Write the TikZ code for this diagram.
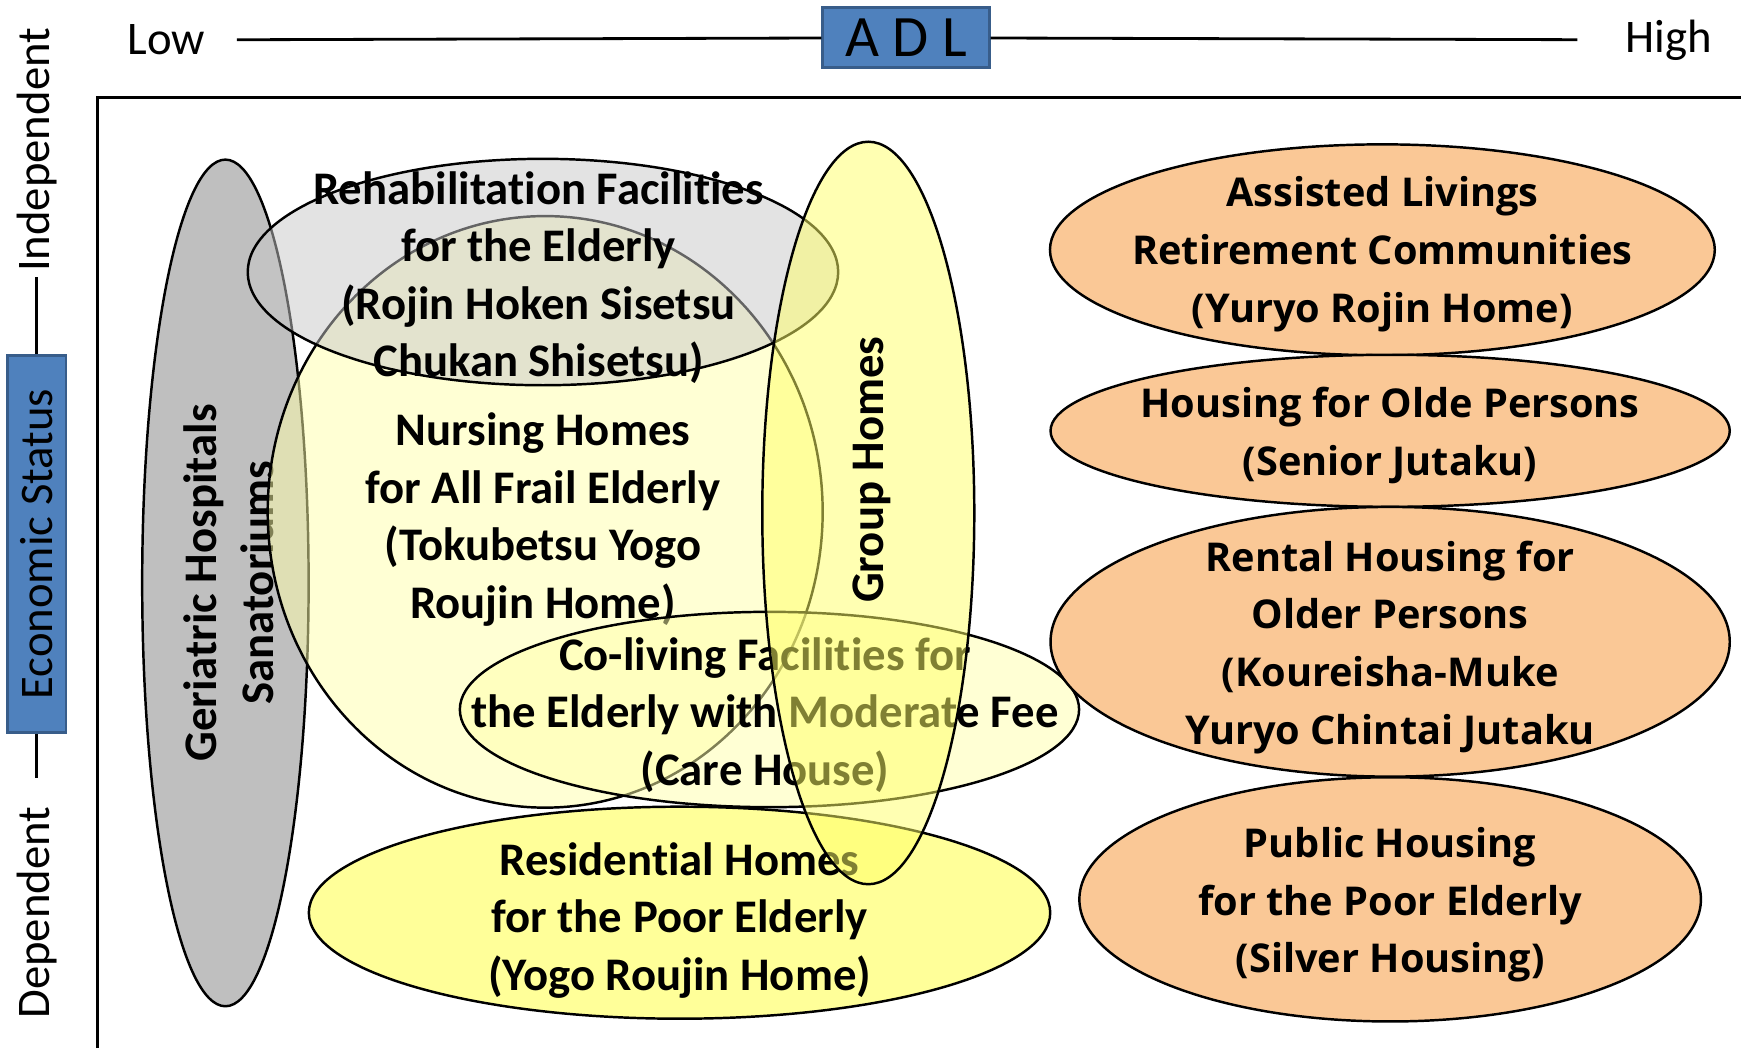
\documentclass[tikz,border=0pt]{standalone}
\usepackage{fontspec}
\setmainfont[Ligatures=NoCommon]{Carlito}
\newfontfamily\widefont{Open Sans}
\usepackage{xcolor}
\usepackage{tikz}
\usetikzlibrary{shapes.geometric,positioning}
\definecolor{adlblue}{HTML}{4F81BD}
\definecolor{adledge}{HTML}{385D8A}
\definecolor{geriagray}{HTML}{BFBFBF}
\definecolor{rehabgray}{HTML}{C8C8C8}
\definecolor{paleyellow}{HTML}{FFFFAA}
\definecolor{lightyellow}{HTML}{FFFF99}
\definecolor{groupyellow}{HTML}{FFFF66}
\definecolor{housingorange}{HTML}{FAC896}
\tikzstyle{axislabel} = [font=\fontsize{13.3}{15.5}\selectfont, inner sep=0pt]
\tikzstyle{axisbox} = [rectangle, draw=adledge, fill=adlblue, line width=0.8pt, inner sep=0pt]
\tikzstyle{axisline} = [line width=0.8pt]

\begin{document}
\begin{tikzpicture}[x=0.011103cm, y=-0.011103cm]
    \tikzstyle{zone} = [ellipse, draw, line width=0.7pt, inner sep=0pt]
    \tikzstyle{zonetext} = [align=center, inner sep=0pt, font=\bfseries\fontsize{13.3}{16.4}\selectfont]
    \tikzstyle{housetext} = [align=center, inner sep=0pt, font=\widefont\bfseries\fontsize{11.3}{16.4}\selectfont]
    \useasboundingbox (0,0) rectangle (1568,944);

    % ADL axis
    \node [axislabel] (low) at (150,36) {Low};
    \node [axisbox, minimum width=1.665cm, minimum height=0.6cm, font=\fontsize{16.7}{20}\selectfont] (adl) at (816,34) {A D L};
    \node [axislabel] (high) at (1503,36) {High};
    \draw [axisline, shorten <=0.31cm] (low) -- (adl);
    \draw [axisline, shorten >=0.477cm] (adl) -- (high);

    % Economic status axis
    \node [axislabel, rotate=90] (indep) at (33,135) {Independent};
    \node [axisbox, rotate=90, minimum width=3.775cm, minimum height=0.588cm, font=\fontsize{13.3}{15.5}\selectfont] (econ) at (33,490) {Economic Status};
    \node [axislabel, rotate=90] (dep) at (33,822) {Dependent};
    \draw [axisline, shorten <=0.044cm] (indep) -- (econ);
    \draw [axisline, shorten >=0.278cm] (econ) -- (dep);

    % frame
    \draw [axisline] (88,944) -- (88,88) -- (1568,88);

    % facilities
    \node [zone, fill=geriagray, minimum width=1.665cm, minimum height=8.47cm] (geriatric) at (203,525) {};
    \node [zonetext, rotate=90] (geriatrictext) at (206,525) {Geriatric Hospitals\\Sanatoriums};
    \node [zone, fill=lightyellow, minimum width=7.417cm, minimum height=2.121cm] (residential) at (612,822) {};
    \node [zonetext] (residentialtext) at (612,829) {Residential Homes\\for the Poor Elderly\\(Yogo Roujin Home)};
    \node [zone, fill=paleyellow, fill opacity=0.5, minimum width=5.552cm, minimum height=5.918cm] (nursing) at (491,461) {};
    \node [zonetext] (nursingtext) at (489,468) {Nursing Homes\\for All Frail Elderly\\(Tokubetsu Yogo\\Roujin Home)};
    \node [zone, fill=rehabgray, fill opacity=0.5, minimum width=5.907cm, minimum height=2.265cm] (rehab) at (489,245) {};
    \node [zonetext] (rehabtext) at (485,250) {Rehabilitation Facilities\\for the Elderly\\(Rojin Hoken Sisetsu\\Chukan Shisetsu)};
    \node [zone, fill=paleyellow, fill opacity=0.5, minimum width=6.195cm, minimum height=1.954cm] (coliving) at (693,639) {};
    \node [zonetext] (colivingtext) at (689,644) {Co-living Facilities for\\the Elderly with Moderate Fee\\(Care House)};
    \node [zone, fill=groupyellow, fill opacity=0.5, minimum width=2.121cm, minimum height=7.428cm] (group) at (782,462) {};
    \node [zonetext, rotate=90] (grouptext) at (785,423) {Group Homes};

    % housing
    \node [zone, fill=housingorange, minimum width=6.651cm, minimum height=2.11cm] (assisted) at (1245,225) {};
    \node [housetext] (assistedtext) at (1245,229) {Assisted Livings\\Retirement Communities\\(Yuryo Rojin Home)};
    \node [zone, fill=housingorange, minimum width=6.795cm, minimum height=1.521cm] (senior) at (1252,388) {};
    \node [housetext] (seniortext) at (1252,392) {Housing for Olde Persons\\(Senior Jutaku)};
    \node [zone, fill=housingorange, minimum width=6.795cm, minimum height=2.698cm] (rental) at (1252,578) {};
    \node [housetext] (rentaltext) at (1252,583) {Rental Housing for\\Older Persons\\(Koureisha-Muke\\Yuryo Chintai Jutaku};
    \node [zone, fill=housingorange, minimum width=6.218cm, minimum height=2.443cm] (public) at (1252,810) {};
    \node [housetext] (publictext) at (1252,815) {Public Housing\\for the Poor Elderly\\(Silver Housing)};

\end{tikzpicture}
\end{document}
